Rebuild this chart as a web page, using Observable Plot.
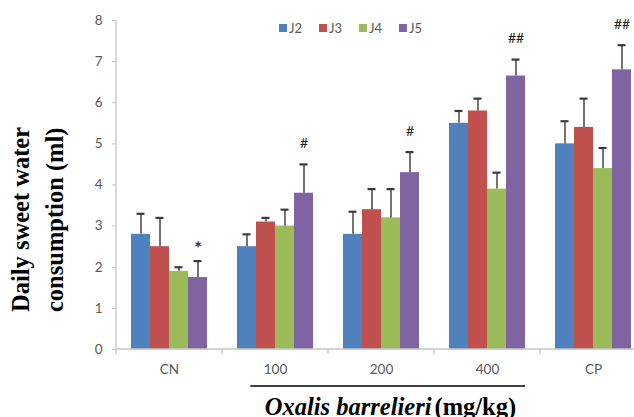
<!DOCTYPE html>
<html><head><meta charset="utf-8">
<script src="https://cdn.jsdelivr.net/npm/d3@7"></script>
<script src="https://cdn.jsdelivr.net/npm/@observablehq/plot@0.6"></script>
<style>
html,body{margin:0;padding:0;background:#fff;}
#chart{width:634px;height:417px;overflow:hidden;}
#chart svg{max-width:none !important;}
</style></head><body><div id="chart"></div>
<script>
const groups = ["CN", "100", "200", "400", "CP"];
const series = ["J2", "J3", "J4", "J5"];
const J2 = [2.8, 2.5, 2.8, 5.5, 5.0];
const J3 = [2.5, 3.1, 3.4, 5.8, 5.4];
const J4 = [1.9, 3.0, 3.2, 3.9, 4.4];
const J5 = [1.75, 3.8, 4.3, 6.65, 6.8];
const J2err = [0.5, 0.3, 0.55, 0.3, 0.55];
const J3err = [0.7, 0.1, 0.5, 0.3, 0.7];
const J4err = [0.1, 0.4, 0.7, 0.4, 0.5];
const J5err = [0.4, 0.7, 0.5, 0.4, 0.6];
const J5sig = ["*", "#", "#", "##", "##"];
const yTicks = [0, 1, 2, 3, 4, 5, 6, 7, 8];
const colors = ["#4F81BD", "#C0504D", "#9BBB59", "#8064A2"];
const yTitle = "Daily sweet water\nconsumption (ml)";
const xTitleItalic = "Oxalis barrelieri";
const xTitleUnit = "(mg/kg)";
const bracketGroups = ["100", "200", "400"];

const valuesBy = {J2, J3, J4, J5};
const errsBy = {J2: J2err, J3: J3err, J4: J4err, J5: J5err};
const sigBy = {J5: J5sig};
const data = [];
groups.forEach((g, gi) => series.forEach(s => data.push({
  group: g, series: s, value: valuesBy[s][gi],
  upper: valuesBy[s][gi] + errsBy[s][gi],
  mark: sigBy[s] ? sigBy[s][gi] : ""
})));

const AXIS = "#c4c4c4";
const WHISK = "#3a3a3a";
function line(g, x1, y1, x2, y2, stroke, w) {
  g.append("line").attr("x1", x1).attr("y1", y1).attr("x2", x2).attr("y2", y2)
    .attr("stroke", stroke).attr("stroke-width", w);
}

const decor = Plot.ruleY(groups, {
  fx: d => d, y: () => 0,
  render(index, scales, values, dims) {
    const grp = groups[index[0]];
    const [a, b] = scales.x.range();
    const bw = scales.x.bandwidth();
    const y0 = scales.y(0), yT = scales.y(8);
    const g = d3.create("svg:g");
    line(g, a, y0, b, y0, AXIS, 1.3);
    line(g, a, y0, a, y0 + 5, AXIS, 1.3);
    if (grp === groups[0]) line(g, a, yT, a, y0, AXIS, 1.3);
    const bi = bracketGroups.indexOf(grp);
    if (bi >= 0) {
      const yb = y0 + 37;
      const start = bi === 0 ? scales.x(series[0]) + bw * 0.7 : a;
      const end = bi === bracketGroups.length - 1 ? scales.x(series[series.length - 1]) + bw : b;
      line(g, start, yb, end, yb, "#000", 1.5);
    }
    return g.node();
  }
});

const legend = Plot.ruleY(series, {
  fx: () => "CN", y: () => 0,
  render(index, scales) {
    const g = d3.create("svg:g").attr("text-anchor", "start");
    series.forEach((s, i) => {
      const x = 279 + i * 40;
      g.append("rect").attr("x", x).attr("y", 24).attr("width", 8).attr("height", 8).attr("fill", scales.color(s));
      g.append("text").attr("x", x + 10).attr("y", 32.5).attr("fill", "#595959")
        .attr("text-anchor", "start").attr("stroke", "none")
        .attr("font-family", "Lato, 'Open Sans', sans-serif")
        .attr("font-size", 13).text(s);
    });
    return g.node();
  }
});

const chart = Plot.plot({
  width: 646, height: 417,
  marginLeft: 116, marginRight: 0, marginTop: 20, marginBottom: 68,
  style: {fontFamily: "Lato, 'Open Sans', sans-serif", fontSize: "13px", color: "#595959", background: "#fff", maxWidth: "none"},
  fx: {domain: groups, paddingInner: 0, paddingOuter: 0},
  x: {domain: series, paddingInner: 0, paddingOuter: 0.753, axis: null},
  y: {domain: [0, 8]},
  color: {domain: series, range: colors},
  marks: [
    Plot.barY(data, {fx: "group", x: "series", y: "value", fill: "series"}),
    Plot.ruleX(data, {fx: "group", x: "series", y1: "value", y2: "upper", stroke: WHISK, strokeWidth: 1.4}),
    Plot.tickY(data, {fx: "group", x: "series", y: "upper", stroke: WHISK, strokeWidth: 2.2, insetLeft: 5.5, insetRight: 5.5}),
    Plot.text(data.filter(d => d.mark.startsWith("#")), {fx: "group", x: "series", y: "upper", text: "mark", dy: -21, fontSize: 14, fill: "#222"}),
    Plot.text(data.filter(d => d.mark === "*"), {fx: "group", x: "series", y: "upper", text: "mark", dy: -12, fontSize: 18, fontWeight: "bold", fill: "#333"}),
    decor,
    Plot.axisY(yTicks, {tickSize: 4, tickPadding: 10, label: null, stroke: AXIS, fill: "#595959", fontSize: 13.5}),
    Plot.axisFx({anchor: "bottom", tickSize: 0, tickPadding: 15, label: null, fill: "#595959", fontSize: 13.5}),
    legend,
    Plot.text([yTitle], {fx: () => "CN", frameAnchor: "left", rotate: -90, text: d => d, dx: -81, dy: 127,
      fontSize: 24.5, fontWeight: "bold", fontFamily: "'Liberation Serif', serif", lineHeight: 1.38, fill: "#000"}),
    Plot.text([xTitleItalic], {fx: () => "200", frameAnchor: "bottom-right", textAnchor: "end", lineAnchor: "bottom",
      text: d => d, dx: -3, dy: 65, fontSize: 24.5, fontWeight: "bold", fontStyle: "italic",
      fontFamily: "'Liberation Serif', serif", fill: "#000"}),
    Plot.text([xTitleUnit], {fx: () => "400", frameAnchor: "bottom-left", textAnchor: "start", lineAnchor: "bottom",
      text: d => d, dx: 0, dy: 65, fontSize: 24.5, fontWeight: "bold",
      fontFamily: "'Liberation Serif', serif", fill: "#000"})
  ]
});
document.getElementById("chart").appendChild(chart);
</script>
</body></html>
